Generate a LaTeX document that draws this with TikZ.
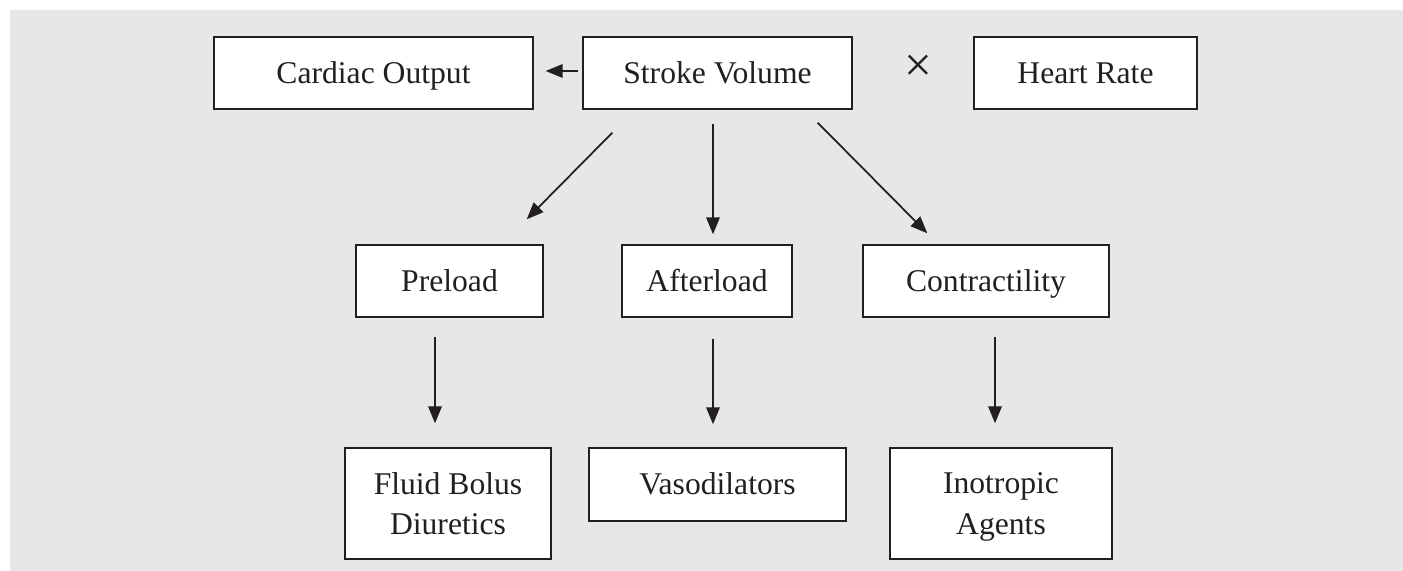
\documentclass[tikz,border=0pt]{standalone}
\usepackage{fontspec}
\setmainfont{Liberation Serif}
\usetikzlibrary{arrows.meta, calc}
\definecolor{panelgray}{HTML}{E6E7E8}
\definecolor{inkdark}{HTML}{231F20}

\begin{document}
\begin{tikzpicture}[
    x=0.02cm, y=-0.02cm,
    box/.style={rectangle, draw=inkdark, fill=white, line width=0.8pt, inner sep=0pt, align=center, text=inkdark, font=\fontsize{18}{23}\selectfont},
    oneline/.style={box, text height=11.9pt, text depth=0pt},
    twoline/.style={box, text depth=0pt},
    arrow/.style={-{Triangle[length=0.34cm, width=0.27cm]}, draw=inkdark, line width=1pt}
]

% Background panel
\useasboundingbox (0,0) rectangle (1403,571);
\fill[panelgray] (10,10) rectangle (1403,571);

% Top row
\node[oneline, minimum width=6.38cm, minimum height=1.44cm] (cardiac) at (373.5, 73) {Cardiac Output};
\node[oneline, minimum width=5.38cm, minimum height=1.44cm] (stroke) at (717.5, 73) {Stroke Volume};
\node[text=inkdark, font=\fontsize{28}{28}\selectfont, inner sep=0pt] (times) at (918, 68) {×};
\node[oneline, minimum width=4.46cm, minimum height=1.44cm] (heart) at (1085.5, 73) {Heart Rate};

% Determinants
\node[oneline, minimum width=3.74cm, minimum height=1.44cm] (preload) at (449.5, 281) {Preload};
\node[oneline, minimum width=3.4cm, minimum height=1.44cm] (afterload) at (707, 281) {Afterload};
\node[oneline, minimum width=4.92cm, minimum height=1.44cm] (contract) at (986, 281) {Contractility};

% Treatments
\node[twoline, minimum width=4.12cm, minimum height=2.22cm] (fluid) at (448, 503.5) {Fluid Bolus\\Diuretics};
\node[oneline, minimum width=5.14cm, minimum height=1.46cm] (vaso) at (717.5, 484.5) {Vasodilators};
\node[twoline, minimum width=4.44cm, minimum height=2.22cm] (inotrop) at (1001, 503.5) {Inotropic\\Agents};

% Arrows
\draw[arrow] ($(stroke.west)+(-4,-2)$) -- ($(cardiac.east)+(12,-2)$);
\draw[arrow] ($(stroke.south west)+(30,23)$) -- ($(preload.north east)+(-17,-25)$);
\draw[arrow] ($(stroke.south)+(-4.5,14)$) -- ($(afterload.north)+(6,-10)$);
\draw[arrow] ($(stroke.south east)+(-35,13)$) -- ($(contract.north west)+(65,-11)$);
\draw[arrow] ($(preload.south)+(-14.5,19)$) -- ($(fluid.north)+(-13,-24)$);
\draw[arrow] ($(afterload.south)+(6,21)$) -- ($(vaso.north)+(-4.5,-23)$);
\draw[arrow] ($(contract.south)+(9,19)$) -- ($(inotrop.north)+(-6,-24)$);

\end{tikzpicture}
\end{document}
